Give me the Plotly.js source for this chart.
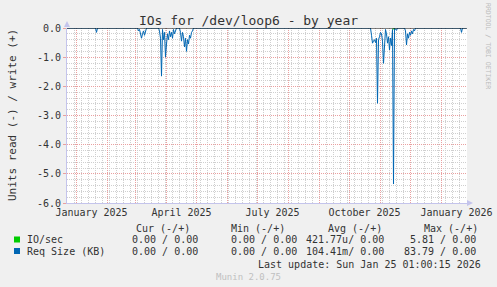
<!DOCTYPE html>
<html><head><meta charset="utf-8">
<script src="https://cdn.plot.ly/plotly-3.0.1.min.js"></script>
<style>html,body{margin:0;padding:0;background:#f0f0f0;overflow:hidden}#chart{width:497px;height:287px}</style>
</head><body><div id="chart"></div>
<script>
// ---- data ----
const reqDates = [
 "2024-12-22","2025-01-20","2025-01-21","2025-01-22",
 "2025-03-03","2025-03-04","2025-03-05","2025-03-06","2025-03-07","2025-03-08","2025-03-09","2025-03-10","2025-03-11","2025-03-12",
 "2025-03-24","2025-03-25","2025-03-26","2025-03-27","2025-03-28","2025-03-29","2025-03-30","2025-03-31","2025-04-01","2025-04-02",
 "2025-04-03","2025-04-04","2025-04-05","2025-04-06","2025-04-07","2025-04-08","2025-04-09","2025-04-10","2025-04-11",
 "2025-04-14","2025-04-15","2025-04-16","2025-04-17","2025-04-18","2025-04-19","2025-04-20","2025-04-21","2025-04-22","2025-04-23",
 "2025-04-24","2025-04-25","2025-04-26","2025-04-27","2025-04-28",
 "2025-10-22","2025-10-23","2025-10-24","2025-10-25","2025-10-26","2025-10-27","2025-10-28","2025-10-29","2025-10-30","2025-10-31",
 "2025-11-01","2025-11-02","2025-11-03","2025-11-04","2025-11-05","2025-11-06","2025-11-07","2025-11-08","2025-11-09","2025-11-10",
 "2025-11-11","2025-11-12","2025-11-13","2025-11-14","2025-11-15","2025-11-16","2025-11-17","2025-11-18",
 "2025-11-25","2025-11-26","2025-11-27","2025-11-28","2025-11-29","2025-11-30","2025-12-01","2025-12-02","2025-12-03","2025-12-04",
 "2025-12-05","2025-12-06",
 "2026-01-20","2026-01-21","2026-01-22","2026-01-26"
];
const reqSizeRead = [
 0,0,-0.15,0,
 0,-0.1,-0.05,-0.2,-0.35,-0.2,-0.1,-0.25,-0.05,0,
 0,-0.1,-0.35,-1.65,-0.05,-0.4,-0.15,-1.0,-0.55,-0.2,
 -0.4,-0.1,-0.3,-0.15,-0.35,-0.05,-0.2,-0.05,0,
 0,-0.15,-0.45,-0.15,-0.3,-0.65,-0.35,-0.8,-0.4,-0.55,
 -0.25,-0.35,-0.15,-0.1,0,
 0,-0.25,-0.52,-0.45,-0.4,-0.5,-0.35,-2.58,-0.4,-0.3,
 -0.15,-0.2,-0.45,-1.21,-0.3,-0.05,-0.2,-0.52,-0.3,-0.75,
 -0.35,-0.6,-0.05,-5.35,0,-0.05,-0.08,0,
 0,-0.1,-0.58,-0.2,-0.35,-0.15,-0.25,-0.1,-0.2,-0.05,
 -0.1,0,
 0,-0.15,0,0
];
const ioDates = ["2025-11-13","2025-11-14","2025-11-15"];
const ioRead = [-0.03,-0.03,-0.03];

const monthStarts = ["2025-01-01","2025-02-01","2025-03-01","2025-04-01","2025-05-01","2025-06-01","2025-07-01",
 "2025-08-01","2025-09-01","2025-10-01","2025-11-01","2025-12-01","2026-01-01"];
const monthLabels = ["January 2025","","","April 2025","","","July 2025","","","October 2025","","","January 2026"];
const yTickVals = [0,-1,-2,-3,-4,-5,-6];
const yTickText = ["0.0","-1.0","-2.0","-3.0","-4.0","-5.0","-6.0"];

const legendNames = ["IO/sec","Req Size (KB)"];
const legendColors = ["#00cc00","#0066b3"];
const statHeaders = ["Cur (-/+)","Min (-/+)","Avg (-/+)","Max (-/+)"];
const statCur = ["0.00 / 0.00","0.00 / 0.00"];
const statMin = ["0.00 / 0.00","0.00 / 0.00"];
const statAvg = ["421.77u/ 0.00","104.41m/ 0.00"];
const statMax = ["5.81 / 0.00","83.79 / 0.00"];
const titleText = "IOs for /dev/loop6 - by year";
const yTitle = "Units read (-) / write (+)";
const lastUpdate = "Last update: Sun Jan 25 01:00:15 2026";
const footer = "Munin 2.0.75";
const sideText = "RRDTOOL / TOBI OETIKER";

// ---- layout helpers (pixel -> paper) ----
const L = 67, R = 467, T = 28, B = 203;
const px = x => (x - L) / (R - L);
const py = y => (B - y) / (B - T);
const MONO = "DejaVu Sans Mono";
const TXT = "#333333";
const AXC = "#c4c4ec";

// minor grid positions: weekly (x), every 0.2 (y)
const weekTicks = [];
for (let t = Date.UTC(2024, 11, 23); t <= Date.UTC(2026, 0, 27); t += 7 * 86400000) {
  weekTicks.push(new Date(t).toISOString().slice(0, 10));
}
const yMinorTicks = [];
for (let k = 0; k <= 30; k++) yMinorTicks.push(-k / 5);

const traces = [
  {x: reqDates, y: reqSizeRead, type: "scatter", mode: "lines", line: {color: legendColors[1], width: 1}, hoverinfo: "skip"},
  {x: ioDates, y: ioRead, type: "scatter", mode: "lines", line: {color: legendColors[0], width: 1}, hoverinfo: "skip"}
];

const ann = [];
function txt(text, x, y, anchor, opts) {
  ann.push(Object.assign({text: text, xref: "paper", yref: "paper", x: px(x), y: py(y),
    xanchor: anchor, yanchor: "middle", showarrow: false, borderpad: 0,
    font: {family: MONO, size: 10, color: TXT}}, opts || {}));
}
txt(yTitle, 12, 115, "center", {textangle: -90, font: {family: MONO, size: 11, color: TXT}});
txt(sideText, 488, 46, "center", {textangle: 90, font: {family: MONO, size: 6.5, color: "#bbbbbb"}});
const hdrX = [135, 230, 327, 423];
statHeaders.forEach((h, i) => txt(h, hdrX[i], 228, "left"));
const rowY = [239.5, 251];
legendNames.forEach((n, i) => {
  txt(n, 26, rowY[i], "left");
  txt(statCur[i], 131, rowY[i], "left");
  txt(statMin[i], 230, rowY[i], "left");
  txt(statAvg[i], 305, rowY[i], "left");
  txt(statMax[i], 477, rowY[i], "right");
});
txt(lastUpdate, 482, 264, "right");
txt(footer, 248, 276.5, "center", {font: {family: MONO, size: 9, color: "#c0c0c0"}});

const shapes = [
  {type: "line", xref: "paper", yref: "y", x0: 0, x1: 1, y0: 0, y1: 0, line: {color: "#000000", width: 1}, layer: "above"},
  {type: "path", xref: "paper", yref: "paper",
   path: `M${px(64)},${py(27)} L${px(70)},${py(27)} L${px(67)},${py(21)} Z`, fillcolor: AXC, line: {width: 0}},
  {type: "path", xref: "paper", yref: "paper",
   path: `M${px(467)},${py(200)} L${px(467)},${py(206)} L${px(473)},${py(203)} Z`, fillcolor: AXC, line: {width: 0}}
];
legendColors.forEach((c, i) => shapes.push({type: "rect", xref: "paper", yref: "paper",
  x0: px(14), x1: px(20), y0: py(rowY[i] - 3), y1: py(rowY[i] + 3), fillcolor: c, line: {width: 0}}));

const MAJ = "#eaa0a0", MIN = "#cfcfcf";
const layout = {
  width: 497, height: 287,
  margin: {l: L, r: 497 - R, t: T, b: 287 - B},
  paper_bgcolor: "#f0f0f0", plot_bgcolor: "#ffffff",
  showlegend: false,
  title: {text: titleText, x: 0.5, xanchor: "center", y: 1 - 20 / 287, yanchor: "middle", yref: "container",
    font: {family: MONO, size: 13, color: TXT}},
  xaxis: {type: "date", range: ["2024-12-22 12:00", "2026-01-26 12:00"], tickmode: "array",
    tickvals: monthStarts, ticktext: monthLabels, ticklabelshift: 15, ticks: "",
    showgrid: true, gridcolor: MAJ, griddash: "1px,1px", gridwidth: 1,
    minor: {tickmode: "array", tickvals: weekTicks, showgrid: true, gridcolor: MIN, griddash: "1px,1px", ticks: ""},
    showline: true, linecolor: AXC, linewidth: 1, zeroline: false,
    tickfont: {family: MONO, size: 10, color: TXT}, fixedrange: true},
  yaxis: {range: [-6, 0], tickmode: "array", tickvals: yTickVals, ticktext: yTickText,
    showgrid: true, gridcolor: MAJ, griddash: "1px,1px", gridwidth: 1,
    minor: {tickmode: "array", tickvals: yMinorTicks, showgrid: true, gridcolor: MIN, griddash: "1px,1px", ticks: ""},
    ticks: "outside", ticklen: 3, tickcolor: MAJ,
    showline: true, linecolor: AXC, linewidth: 1, zeroline: false,
    tickfont: {family: MONO, size: 10, color: TXT}, fixedrange: true},
  annotations: ann,
  shapes: shapes
};
Plotly.newPlot("chart", traces, layout, {staticPlot: true, displayModeBar: false});
</script>
</body></html>
